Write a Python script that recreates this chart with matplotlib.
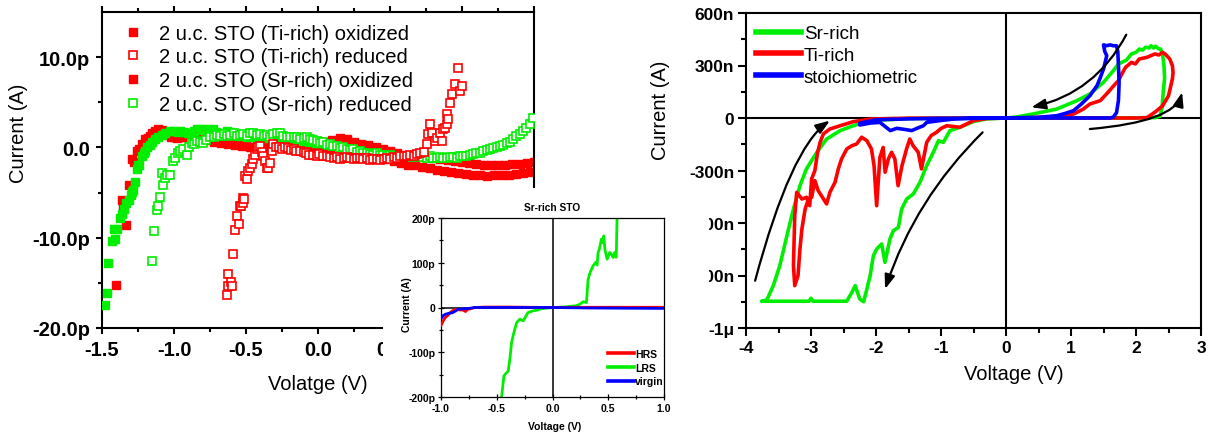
import matplotlib
matplotlib.use('Agg')
import matplotlib.pyplot as plt
from matplotlib.patches import Rectangle
from matplotlib.lines import Line2D

plt.rcParams['font.family'] = ['Liberation Sans', 'DejaVu Sans']
plt.rcParams['axes.unicode_minus'] = False

# ---------------- Left panel data (V, pA) ----------------
v_ti_ox = [-1.403, -1.363, -1.352, -1.333, -1.31, -1.294, -1.275, -1.26, -1.24, -1.22,
           -1.20, -1.18, -1.167, -1.15, -1.13, -1.11, -1.097, -1.08, -1.06, -1.04,
           -1.02, -1.0, -0.98, -0.96, -0.94, -0.92, -0.90, -0.875,
           -0.85, -0.825, -0.80, -0.775, -0.75, -0.725, -0.70, -0.675, -0.65, -0.625,
           -0.60, -0.575, -0.55, -0.525, -0.50, -0.475, -0.45, -0.425, -0.40, -0.375,
           -0.35, -0.325, -0.30, -0.275, -0.25, -0.225, -0.20, -0.175, -0.15, -0.125,
           -0.10, -0.075, -0.05, -0.025, 0.0, 0.025, 0.05, 0.075, 0.10, 0.125,
           0.15, 0.175, 0.20, 0.225, 0.25, 0.275, 0.30, 0.325, 0.35, 0.375,
           0.40, 0.425, 0.45, 0.475, 0.50, 0.525, 0.55, 0.575, 0.60, 0.625,
           0.65, 0.675, 0.70, 0.725, 0.75, 0.775, 0.80, 0.825, 0.85, 0.875,
           0.90, 0.925, 0.95, 0.975, 1.0, 1.025, 1.05, 1.075, 1.10, 1.125,
           1.15, 1.175, 1.20, 1.225, 1.25, 1.275, 1.30, 1.325, 1.35, 1.375,
           1.40, 1.425, 1.45, 1.475, 1.50]
i_ti_ox = [-15.2, -5.8, -6.6, -8.6, -4.2, -1.3, -1.6, -0.4, -0.2, 0.4,
           0.9, 1.0, 1.25, 1.6, 1.8, 2.0, 1.8, 1.9, 1.6, 1.4,
           1.2, 1.1, 1.07, 1.3, 1.2, 1.1, 1.25, 1.0,
           1.5, 0.9, 1.3, 0.8, 1.2, 0.6, 1.1, 0.5, 1.0, 0.4,
           0.9, 0.3, 1.0, 0.2, 0.9, 0.1, 1.1, 0.2, 0.9, 0.0,
           0.8, 0.1, 1.0, 0.2, 0.8, 0.0, 0.9, 0.1, 0.8, -0.1,
           0.9, 0.0, 0.8, -0.2, 0.7, -0.1, 0.6, -0.3, 0.8, -0.2,
           1.0, -0.2, 0.9, -0.4, 0.6, -0.5, 0.4, -0.6, 0.3, -0.8,
           0.0, -1.0, -0.2, -1.3, -0.4, -1.5, -0.6, -1.7, -0.8, -1.9,
           -0.9, -2.0, -1.0, -2.2, -1.1, -2.3, -1.2, -2.5, -1.3, -2.6,
           -1.4, -2.7, -1.5, -2.8, -1.6, -2.9, -1.7, -3.0, -1.8, -3.1,
           -1.9, -3.2, -2.0, -3.1, -1.9, -3.0, -1.9, -3.0, -1.8, -2.9,
           -1.8, -2.8, -1.7, -2.7, -1.6]

v_ti_red = [-0.634, -0.627, -0.623, -0.604, -0.595, -0.588, -0.576, -0.565, -0.549, -0.542,
            -0.537, -0.523, -0.519, -0.514, -0.507, -0.495, -0.483, -0.472, -0.46, -0.449,
            -0.437, -0.426, -0.415, -0.403, -0.39, -0.38, -0.368, -0.357, -0.345, -0.333,
            -0.32, -0.31, -0.29, -0.27, -0.25, -0.23, -0.21, -0.19, -0.17, -0.15,
            -0.125, -0.10, -0.08, -0.06, -0.032, -0.01, 0.01, 0.037, 0.06, 0.085,
            0.11, 0.13, 0.153, 0.18, 0.2, 0.225, 0.25, 0.27, 0.29, 0.315,
            0.34, 0.36, 0.385, 0.41, 0.43, 0.455, 0.48, 0.5, 0.525, 0.55,
            0.57, 0.595, 0.62, 0.64, 0.665, 0.69, 0.71, 0.735, 0.755, 0.766,
            0.78, 0.79, 0.81, 0.824, 0.847, 0.86, 0.87, 0.882, 0.894, 0.894,
            0.905, 0.917, 0.93, 0.95, 0.97, 0.986, 0.997]
i_ti_red = [-16.3, -15.4, -14.0, -14.9, -15.4, -11.8, -9.2, -7.6, -8.5, -6.5,
            -6.5, -6.1, -5.6, -5.7, -3.2, -3.5, -2.6, -2.25, -1.8, -1.3,
            -0.8, -0.2, 0.1, 0.15, -0.5, -0.96, -1.5, -2.25, -2.25, -1.7,
            -0.4, 0.33, 0.1, 0.0, -0.2, 0.1, -0.1, -0.3, -0.2, -0.4,
            -0.4, -0.5, -0.6, -0.8, -0.8, -0.9, -0.7, -0.96, -1.0, -1.1,
            -1.2, -1.1, -1.3, -1.2, -1.1, -1.15, -1.3, -1.2, -1.15, -1.3,
            -1.2, -1.4, -1.3, -1.3, -1.4, -1.3, -1.2, -1.3, -1.1, -1.2,
            -1.0, -0.9, -1.0, -0.8, -0.9, -0.7, -0.6, -0.5, 0.33, 1.44,
            2.55, 1.6, 0.7, 1.07, 1.6, 0.7, 2.0, 2.2, 2.55, 3.65,
            3.1, 4.9, 5.9, 7.0, 8.8, 6.2, 6.8]

v_sr_ox = [-1.479, -1.467, -1.456, -1.433, -1.42, -1.41, -1.394, -1.375, -1.36, -1.347,
           -1.33, -1.315, -1.30, -1.294, -1.283, -1.27, -1.26, -1.25, -1.24, -1.224,
           -1.21, -1.2, -1.185, -1.167, -1.15, -1.132, -1.11, -1.085, -1.06, -1.028,
           -1.0, -0.975, -0.958, -0.93, -0.905, -0.889, -0.86, -0.84, -0.82, -0.8,
           -0.775, -0.75, -0.729, -0.705, -0.68, -0.655, -0.63, -0.61, -0.59, -0.565,
           -0.54, -0.515, -0.49, -0.465, -0.44, -0.415, -0.39, -0.365, -0.34, -0.315,
           -0.29, -0.265, -0.24, -0.215, -0.19, -0.165, -0.14, -0.115, -0.09, -0.065,
           -0.04, -0.015, 0.01]
i_sr_ox = [-17.4, -16.1, -12.8, -10.4, -9.0, -10.1, -9.0, -7.8, -7.4, -6.8,
           -6.1, -5.8, -5.3, -4.9, -4.7, -3.8, -2.4, -2.0, -1.9, -1.0,
           -0.6, -0.4, 0.0, 0.3, 0.6, 0.9, 1.2, 1.4, 1.6, 1.8,
           1.8, 1.7, 1.8, 1.7, 1.6, 1.6, 1.8, 2.0, 2.0, 1.9,
           2.0, 1.9, 2.0, 1.7, 1.4, 1.6, 1.8, 1.7, 1.5, 1.4,
           1.3, 1.4, 1.2, 1.3, 1.1, 1.2, 1.0, 1.1, 1.0, 0.9,
           1.0, 0.9, 0.8, 0.9, 0.8, 0.7, 0.8, 0.7, 0.6, 0.7,
           0.6, 0.5, 0.5]

v_sr_red = [-1.155, -1.137, -1.12, -1.112, -1.097, -1.085, -1.079, -1.065, -1.05, -1.028,
            -1.005, -0.99, -0.97, -0.955, -0.935, -0.912, -0.895, -0.877, -0.86, -0.842,
            -0.82, -0.796, -0.775, -0.75, -0.725, -0.703, -0.68, -0.655, -0.634, -0.61,
            -0.585, -0.56, -0.542, -0.52, -0.495, -0.472, -0.449, -0.425, -0.40, -0.378,
            -0.356, -0.332, -0.31, -0.287, -0.264, -0.24, -0.217, -0.194, -0.17, -0.147,
            -0.124, -0.10, -0.078, -0.055, -0.032, -0.01, 0.014, 0.037, 0.06, 0.083,
            0.106, 0.13, 0.153, 0.176, 0.2, 0.222, 0.245, 0.268, 0.29, 0.315,
            0.34, 0.362, 0.385, 0.408, 0.43, 0.453, 0.476, 0.5, 0.523, 0.546,
            0.57, 0.593, 0.616, 0.64, 0.662, 0.685, 0.708, 0.73, 0.754, 0.777,
            0.8, 0.823, 0.846, 0.87, 0.893, 0.917, 0.94, 0.963, 0.986, 1.01,
            1.03, 1.055, 1.078, 1.10, 1.125, 1.148, 1.171, 1.194, 1.217, 1.24,
            1.264, 1.287, 1.31, 1.33, 1.355, 1.378, 1.40, 1.425, 1.447, 1.47,
            1.495]
i_sr_red = [-12.6, -9.3, -6.9, -6.5, -5.5, -2.8, -4.2, -3.4, -3.0, -3.1,
            -1.5, -1.2, -0.6, -0.4, -0.2, -0.8, 0.0, 0.5, 0.4, 0.7,
            0.6, 0.5, 0.8, 1.1, 1.2, 1.4, 1.3, 1.5, 1.3, 1.4,
            1.6, 1.3, 1.4, 1.5, 1.3, 1.6, 1.6, 1.4, 1.5, 1.3,
            1.4, 1.2, 1.5, 1.6, 1.6, 1.3, 1.2, 1.1, 1.1, 1.2,
            0.9, 1.0, 1.1, 0.9, 0.8, 0.7, 0.5, 0.6, 0.3, 0.4,
            0.15, 0.2, -0.1, 0.0, -0.2, -0.3, -0.2, -0.5, -0.4, -0.6,
            -0.6, -0.7, -0.8, -0.6, -0.8, -0.8, -0.9, -0.8, -1.0, -1.0,
            -0.9, -1.0, -0.9, -1.0, -1.1, -1.0, -1.0, -1.1, -1.2, -1.0,
            -1.2, -1.2, -1.1, -1.2, -1.2, -1.1, -1.1, -1.2, -1.0, -1.0,
            -0.9, -0.8, -0.7, -0.6, -0.6, -0.4, -0.3, -0.2, -0.1, 0.0,
            0.15, 0.3, 0.5, 0.6, 0.9, 1.25, 1.5, 1.8, 2.2, 2.55,
            3.3]

left_legend = ['2 u.c. STO (Ti-rich) oxidized', '2 u.c. STO (Ti-rich) reduced',
               '2 u.c. STO (Sr-rich) oxidized', '2 u.c. STO (Sr-rich) reduced']
left_xticks = [-1.5, -1.0, -0.5, 0.0, 0.5, 1.0, 1.5]
left_xticklabels = ['-1.5', '-1.0', '-0.5', '0.0', '0.5', '1.0', '1.5']
left_yticks = [-20, -10, 0, 10]
left_yticklabels = ['-20.0p', '-10.0p', '0.0', '10.0p']

# ---------------- Right panel data (V, nA) ----------------
v_srrich = [0.0, 0.5, 1.0, 1.5, 2.0, 2.3, 2.37, 2.40, 2.42, 2.44,
            2.43, 2.41, 2.38, 2.35, 2.30, 2.27, 2.23, 2.20, 2.15, 2.10,
            2.05, 2.00, 1.93, 1.85, 1.73, 1.65, 1.50, 1.29, 1.09, 0.78,
            0.42, 0.15, 0.0, -0.3, -0.5, -0.708, -0.862, -0.964, -1.04, -1.118,
            -1.22, -1.323, -1.426, -1.528, -1.605, -1.656, -1.733, -1.785, -1.862, -1.913,
            -1.99, -2.04, -2.09, -2.14, -2.19, -2.25, -2.32, -2.37, -2.45, -2.97,
            -3.0, -3.03, -3.76, -3.68, -3.58, -3.48, -3.37, -3.27, -3.17, -3.07,
            -2.91, -2.76, -2.55, -2.35, -2.09, -1.5, -0.8, 0.0]
i_srrich = [0, 0, 0, 0, 1, 3, 10, 60, 150, 230,
            300, 360, 394, 395, 410, 400, 413, 400, 405, 388,
            394, 375, 366, 330, 309, 270, 204, 137, 99, 51,
            23, 5, 0, -5, -20, -53, -72, -139, -130, -196,
            -272, -367, -434, -463, -520, -625, -644, -691, -825, -720,
            -749, -787, -901, -977, -1050, -1034, -958, -996, -1047, -1047,
            -1030, -1047, -1047, -1040, -958, -844, -672, -520, -387, -291,
            -196, -120, -72, -44, -15, -3, -1, 0]

v_tirich = [0.0, 1.0, 2.0, 2.17, 2.29, 2.41, 2.50, 2.56, 2.57, 2.56,
            2.52, 2.45, 2.41, 2.35, 2.29, 2.17, 2.05, 1.99, 1.93, 1.84,
            1.78, 1.73, 1.68, 1.57, 1.45, 1.29, 1.19, 1.04, 0.8, 0.4,
            0.0, -0.3, -0.5, -0.71, -0.91, -1.0, -1.07, -1.15, -1.22, -1.30,
            -1.35, -1.43, -1.48, -1.53, -1.60, -1.66, -1.71, -1.76, -1.81, -1.86,
            -1.89, -1.94, -1.99, -2.03, -2.07, -2.14, -2.22, -2.30, -2.37, -2.45,
            -2.53, -2.58, -2.63, -2.71, -2.76, -2.84, -2.89, -2.94, -2.99, -3.04,
            -3.09, -3.14, -3.17, -3.20, -3.25, -3.27, -3.25, -3.22, -3.14, -3.07,
            -3.02, -2.99, -2.94, -2.90, -2.86, -2.81, -2.71, -2.55, -2.35, -2.09,
            -1.5, 0.0]
i_tirich = [0, 0, 0, 2, 33, 70, 127, 223, 260, 299,
            337, 365, 375, 360, 366, 347, 337, 309, 318, 290,
            250, 213, 194, 147, 99, 80, 51, 23, 8, 2,
            0, -3, -15, -53, -44, -60, -82, -100, -139, -291,
            -196, -158, -120, -177, -272, -387, -234, -196, -234, -310,
            -168, -225, -501, -272, -177, -130, -110, -149, -158, -177,
            -234, -291, -367, -425, -491, -444, -415, -358, -453, -463,
            -520, -634, -749, -901, -958, -844, -558, -425, -463, -453,
            -501, -348, -300, -200, -139, -91, -63, -44, -21, -6,
            -1, 0]

v_stoich = [0.0, 0.8, 1.60, 1.65, 1.70, 1.73, 1.74, 1.73, 1.72, 1.70,
            1.65, 1.60, 1.55, 1.50, 1.52, 1.55, 1.52, 1.50, 1.45, 1.40,
            1.29, 1.16, 1.04, 0.9, 0.78, 0.5, 0.0, -0.5, -0.81, -1.02,
            -1.22, -1.27, -1.37, -1.45, -1.53, -1.68, -1.78, -1.94, -2.09, -2.25,
            -2.25, -2.0, -1.5, -1.0, 0.0]
i_stoich = [0, 0, 0, 5, 30, 100, 200, 300, 380, 413,
            413, 418, 413, 418, 380, 356, 310, 280, 230, 185,
            127, 80, 42, 25, 13, 4, 0, -2, -6, -15,
            -25, -44, -59, -72, -67, -59, -72, -25, -29, -40,
            -30, -10, -5, -2, 0]

right_legend = ['Sr-rich', 'Ti-rich', 'stoichiometric']
right_xticks = [-4, -3, -2, -1, 0, 1, 2, 3]
right_yticks = [-1200, -900, -600, -300, 0, 300, 600]
right_yticklabels = ['-1\u03bc', '-900n', '-600n', '-300n', '0', '300n', '600n']

# sweep-direction arrows: (start V, start nA, end V, end nA)
arrow_start = [(-3.86, -930), (-0.36, -82), (1.85, 476), (1.29, -63)]
arrow_end = [(-2.71, -15), (-1.86, -977), (0.39, 61), (2.71, 147)]

# ---------------- Inset data (V, pA) ----------------
v_hrs = [-1.0, -0.98, -0.96, -0.94, -0.92, -0.90, -0.88, -0.85, -0.80, -0.78,
         -0.76, -0.72, -0.70, -0.6, -0.4, -0.2, 0.0, 0.2, 0.4, 0.6, 0.8, 1.0]
i_hrs = [-40, -30, -22, -18, -12, -8, -5, -5, -6, -9,
         -4, -2, 0, 1, 1, 0.5, 0, 0.5, 0.5, 0.5, 0.5, 0.5]
v_virgin = [-1.0, -0.98, -0.96, -0.93, -0.90, -0.87, -0.85, -0.80, -0.75, -0.70,
            -0.5, -0.2, 0.0, 0.3, 0.6, 1.0]
i_virgin = [-25, -18, -15, -13, -12, -8, -4, -3, -2, 0,
            0, 0, 0, -1, -1.5, -2]
v_lrs = [-0.46, -0.457, -0.436, -0.42, -0.397, -0.38, -0.367, -0.345, -0.322, -0.293,
         -0.263, -0.24, -0.218, -0.18, -0.143, -0.1, -0.054, 0.0, 0.1, 0.215,
         0.25, 0.275, 0.304, 0.31, 0.319, 0.34, 0.364, 0.388, 0.40, 0.409,
         0.42, 0.439, 0.45, 0.46, 0.47, 0.49, 0.513, 0.53, 0.543, 0.558,
         0.57, 0.573, 0.579, 0.59]
i_lrs = [-260, -201, -153, -148, -142, -110, -78, -55, -34, -26,
         -30, -20, -11, -8, -6, -3, -1.5, 0, 1, 4,
         8, 13, 11, 30, 63, 80, 93, 101, 95, 123,
         130, 153, 145, 160, 130, 108, 123, 118, 112, 123,
         112, 125, 200, 260]
inset_xticks = [-1.0, -0.5, 0.0, 0.5, 1.0]
inset_xticklabels = ['-1.0', '-0.5', '0.0', '0.5', '1.0']
inset_yticks = [-200, -100, 0, 100, 200]
inset_yticklabels = ['-200p', '-100p', '0', '100p', '200p']

RED = '#ff0000'
GREEN = '#00ee00'
BLUE = '#0000ff'

W, H = 1213, 435
fig = plt.figure(figsize=(W / 100, H / 100), dpi=100)


def rect(l, t, r, b):
    return [l / W, (H - b) / H, (r - l) / W, (b - t) / H]


def bold_ticks(ax):
    for lab in ax.get_xticklabels() + ax.get_yticklabels():
        lab.set_fontweight('bold')


# ================= Left panel =================
axL = fig.add_axes(rect(102, 13, 534, 329))
axL.plot(v_ti_ox, i_ti_ox, 's', color=RED, ms=5.8, mec=RED, zorder=2)
axL.plot(v_sr_ox, i_sr_ox, 's', color=GREEN, ms=5.8, mec=GREEN, zorder=3)
axL.plot(v_sr_red, i_sr_red, 's', mfc='white', mec=GREEN, ms=5.5, mew=1.2, zorder=4)
axL.plot(v_ti_red, i_ti_red, 's', mfc='white', mec=RED, ms=5.5, mew=1.2, zorder=5)
axL.set_xlim(-1.5, 1.5)
axL.set_ylim(-20, 15)
axL.set_xticks(left_xticks)
axL.set_xticklabels(left_xticklabels)
axL.set_xticks([-1.25, -0.75, -0.25, 0.25, 0.75, 1.25], minor=True)
axL.set_yticks(left_yticks)
axL.set_yticklabels(left_yticklabels)
axL.set_yticks([-15, -5, 5], minor=True)
axL.tick_params(which='both', direction='out', width=1.5, labelsize=14.5,
                top=True, labeltop=False)
axL.tick_params(which='major', length=4.5, pad=4)
axL.tick_params(which='minor', length=3)
bold_ticks(axL)
for s in axL.spines.values():
    s.set_linewidth(1.5)
axL.set_xlabel('Volatge (V)', fontsize=14.5)
axL.xaxis.set_label_coords(0.5, -0.146)
axL.set_ylabel('Current (A)', fontsize=14.5)
axL.yaxis.set_label_coords(-0.171, 0.62)
handlesL = [Line2D([], [], ls='none', marker='s', color=RED, ms=6),
            Line2D([], [], ls='none', marker='s', mfc='white', mec=RED, mew=1.2, ms=6),
            Line2D([], [], ls='none', marker='s', color=RED, ms=6),
            Line2D([], [], ls='none', marker='s', mfc='white', mec=GREEN, mew=1.2, ms=6)]
axL.legend(handlesL, left_legend, loc='upper left', bbox_to_anchor=(0.0486, 0.963),
           frameon=False, fontsize=14.5, handlelength=1.0, handletextpad=0.8,
           borderpad=0, borderaxespad=0, labelspacing=0.235)

# ================= Right panel =================
axR = fig.add_axes(rect(746, 14, 1201, 329))
axR.axhline(0, color='black', lw=1.5, zorder=1)
axR.axvline(0, color='black', lw=1.5, zorder=1)
axR.plot(v_srrich, i_srrich, color=GREEN, lw=2.6, zorder=2)
axR.plot(v_tirich, i_tirich, color=RED, lw=2.6, zorder=3)
axR.plot(v_stoich, i_stoich, color=BLUE, lw=2.6, zorder=4)
axR.set_xlim(-4, 3)
axR.set_ylim(-1200, 600)
axR.set_xticks(right_xticks)
axR.set_xticklabels([str(t) for t in right_xticks])
axR.set_xticks([-3.5, -2.5, -1.5, -0.5, 0.5, 1.5, 2.5], minor=True)
axR.set_yticks(right_yticks)
axR.set_yticklabels(right_yticklabels)
axR.set_yticks([-1050, -750, -450, -150, 150, 450], minor=True)
axR.tick_params(which='both', direction='out', width=1.5, labelsize=12.5)
axR.tick_params(which='major', length=5.5, pad=3)
axR.tick_params(which='minor', length=3.5)
bold_ticks(axR)
for s in axR.spines.values():
    s.set_linewidth(1.5)
axR.set_xlabel('Voltage (V)', fontsize=14.5)
axR.xaxis.set_label_coords(0.589, -0.114)
axR.set_ylabel('Current (A)', fontsize=14.5)
axR.yaxis.set_label_coords(-0.167, 0.695)
handlesR = [Line2D([], [], color=GREEN, lw=4), Line2D([], [], color=RED, lw=4),
            Line2D([], [], color=BLUE, lw=4)]
axR.legend(handlesR, right_legend, loc='upper left', bbox_to_anchor=(0.022, 0.962),
           frameon=False, fontsize=13.5, handlelength=2.4, handletextpad=0.15,
           borderpad=0, borderaxespad=0, labelspacing=0.257)

styles = [dict(connectionstyle='angle3,angleA=75,angleB=35'),
          dict(connectionstyle='arc3,rad=0.12'),
          dict(connectionstyle='arc3,rad=-0.23'),
          dict(connectionstyle='angle3,angleA=5,angleB=75')]
for (x0, y0), (x1, y1), st in zip(arrow_start, arrow_end, styles):
    axR.annotate('', xy=(x1, y1), xytext=(x0, y0),
                 arrowprops=dict(arrowstyle='-|>,head_length=0.6,head_width=0.22',
                                 lw=1.6, color='black', mutation_scale=14,
                                 shrinkA=0, shrinkB=0, **st), zorder=6)

# ================= White cover + inset =================
fig.add_artist(Rectangle((383 / W, 0), (709 - 383) / W, (H - 189) / H,
                         transform=fig.transFigure, facecolor='white',
                         edgecolor='none', zorder=5))

axI = fig.add_axes(rect(441, 219, 664, 398), zorder=10)
axI.axhline(0, color='black', lw=1.1, zorder=1)
axI.axvline(0, color='black', lw=1.1, zorder=1)
axI.plot(v_lrs, i_lrs, color=GREEN, lw=2.0, zorder=2)
axI.plot(v_hrs, i_hrs, color=RED, lw=2.0, zorder=3)
axI.plot(v_virgin, i_virgin, color=BLUE, lw=2.0, zorder=4)
axI.set_xlim(-1, 1)
axI.set_ylim(-200, 200)
axI.set_xticks(inset_xticks)
axI.set_xticklabels(inset_xticklabels)
axI.set_xticks([-0.75, -0.25, 0.25, 0.75], minor=True)
axI.set_yticks(inset_yticks)
axI.set_yticklabels(inset_yticklabels)
axI.set_yticks([-150, -50, 50, 150], minor=True)
axI.tick_params(which='both', direction='inout', width=0.9, labelsize=7.5, pad=2)
axI.tick_params(which='major', length=4)
axI.tick_params(which='minor', length=2.5)
bold_ticks(axI)
for s in axI.spines.values():
    s.set_linewidth(0.9)
axI.set_title('Sr-rich STO', fontsize=7.3, fontweight='bold', pad=6)
axI.set_xlabel('Voltage (V)', fontsize=7.5, fontweight='bold')
axI.xaxis.set_label_coords(0.509, -0.134)
axI.set_ylabel('Current (A)', fontsize=7.5, fontweight='bold')
axI.yaxis.set_label_coords(-0.13, 0.52)
handlesI = [Line2D([], [], color=RED, lw=2.6), Line2D([], [], color=GREEN, lw=2.6),
            Line2D([], [], color=BLUE, lw=2.6)]
axI.legend(handlesI, ['HRS', 'LRS', 'virgin'], loc='lower right',
           bbox_to_anchor=(1.0, 0.06), frameon=False,
           prop={'size': 7.5, 'weight': 'bold'}, handlelength=2.5,
           handletextpad=0.1, borderpad=0, borderaxespad=0, labelspacing=0.35)

fig.savefig('out.png', dpi=100)
